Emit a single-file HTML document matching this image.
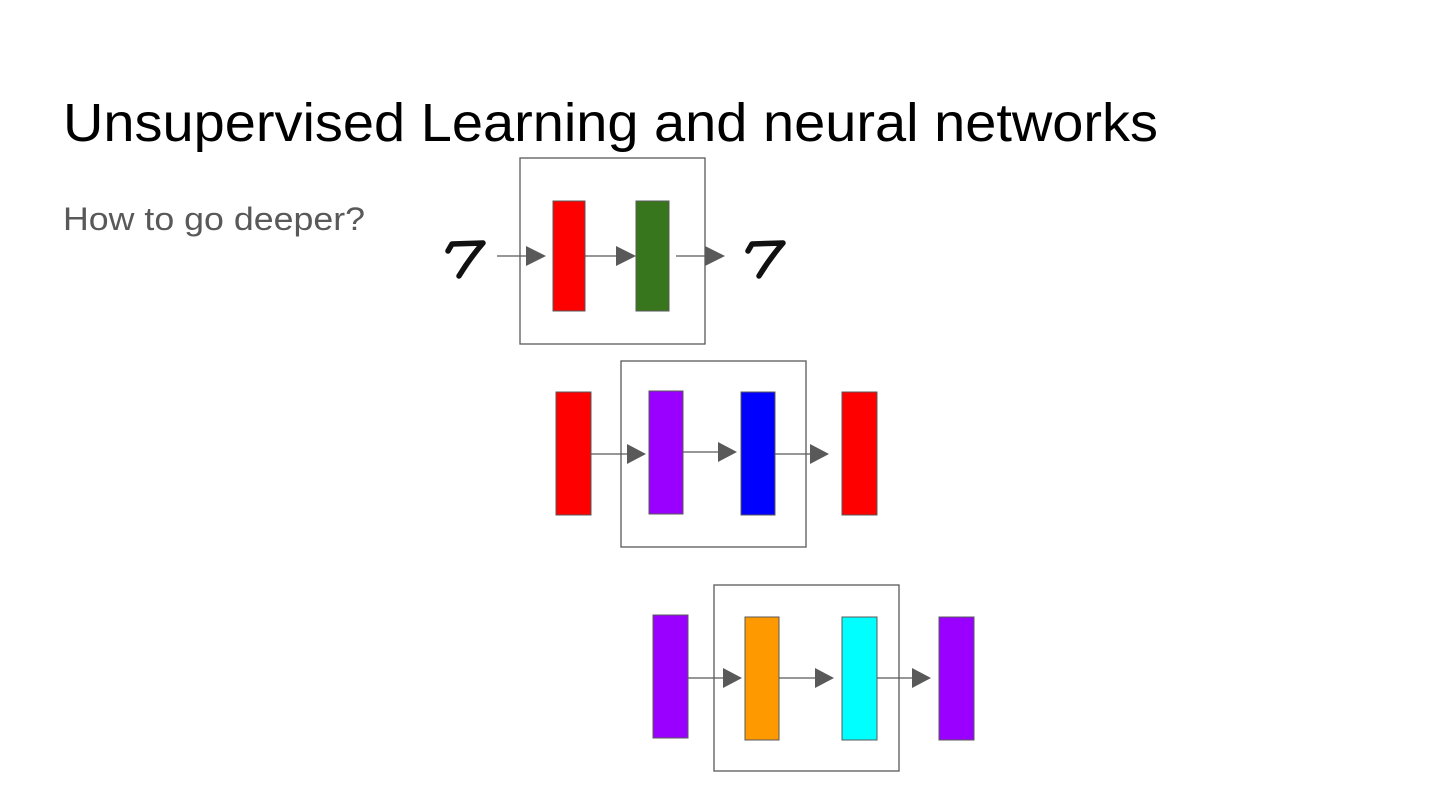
<!DOCTYPE html>
<html><head><meta charset="utf-8"><style>html,body{margin:0;padding:0;background:#fff}svg{display:block}</style></head>
<body>
<svg width="1440" height="810" viewBox="0 0 1440 810" xmlns="http://www.w3.org/2000/svg">
<rect width="1440" height="810" fill="#fff"/>
<text x="63" y="141" font-family="Liberation Sans, sans-serif" font-size="54" fill="#000" textLength="1095" lengthAdjust="spacingAndGlyphs">Unsupervised Learning and neural networks</text>
<text x="63" y="230" font-family="Liberation Sans, sans-serif" font-size="32" fill="#595959" textLength="302" lengthAdjust="spacingAndGlyphs">How to go deeper?</text>
<g stroke="#595959" stroke-width="1.3" fill="none">
<rect x="520" y="158" width="185" height="186"/>
<rect x="621" y="361" width="185" height="186"/>
<rect x="714" y="585" width="185" height="186"/>
</g>
<g stroke="#595959" stroke-width="1">
<rect x="553" y="201" width="32" height="110" fill="#ff0000"/>
<rect x="636" y="201" width="33" height="110" fill="#38761d"/>
<rect x="556" y="392" width="35" height="123" fill="#ff0000"/>
<rect x="649" y="391" width="34" height="123" fill="#9900ff"/>
<rect x="741" y="392" width="34" height="123" fill="#0000ff"/>
<rect x="842" y="392" width="35" height="123" fill="#ff0000"/>
<rect x="653" y="615" width="35" height="123" fill="#9900ff"/>
<rect x="745" y="617" width="34" height="123" fill="#ff9900"/>
<rect x="842" y="617" width="35" height="123" fill="#00ffff"/>
<rect x="939" y="617" width="35" height="123" fill="#9900ff"/>
</g>
<g stroke="#595959" stroke-width="1.3">
<line x1="497" y1="256" x2="530" y2="256"/>
<line x1="585" y1="256" x2="620" y2="256"/>
<line x1="676" y1="256" x2="707" y2="256"/>
<line x1="591" y1="454" x2="630" y2="454"/>
<line x1="683" y1="452" x2="720" y2="452"/>
<line x1="775" y1="454" x2="812" y2="454"/>
<line x1="688" y1="678" x2="726" y2="678"/>
<line x1="779" y1="678" x2="817" y2="678"/>
<line x1="877" y1="678" x2="914" y2="678"/>
</g>
<g fill="#595959">
<polygon points="526,246 546,256 526,266"/>
<polygon points="616,246 636,256 616,266"/>
<polygon points="705,246 725,256 705,266"/>
<polygon points="627,444 646,454 627,464"/>
<polygon points="718,442 737,452 718,462"/>
<polygon points="810,444 829,454 810,464"/>
<polygon points="723,668 742,678 723,688"/>
<polygon points="815,668 834,678 815,688"/>
<polygon points="912,668 931,678 912,688"/>
</g>
<g stroke="#111" stroke-linecap="round" stroke-linejoin="round" fill="none">
<path d="M448,251 L452,244 L483,243 Q470,258 459,276" stroke-width="5.5"/>
<path d="M748,251 L752,244 L783,243 Q770,258 759,276" stroke-width="5.5"/>
</g>
</svg>
</body></html>
